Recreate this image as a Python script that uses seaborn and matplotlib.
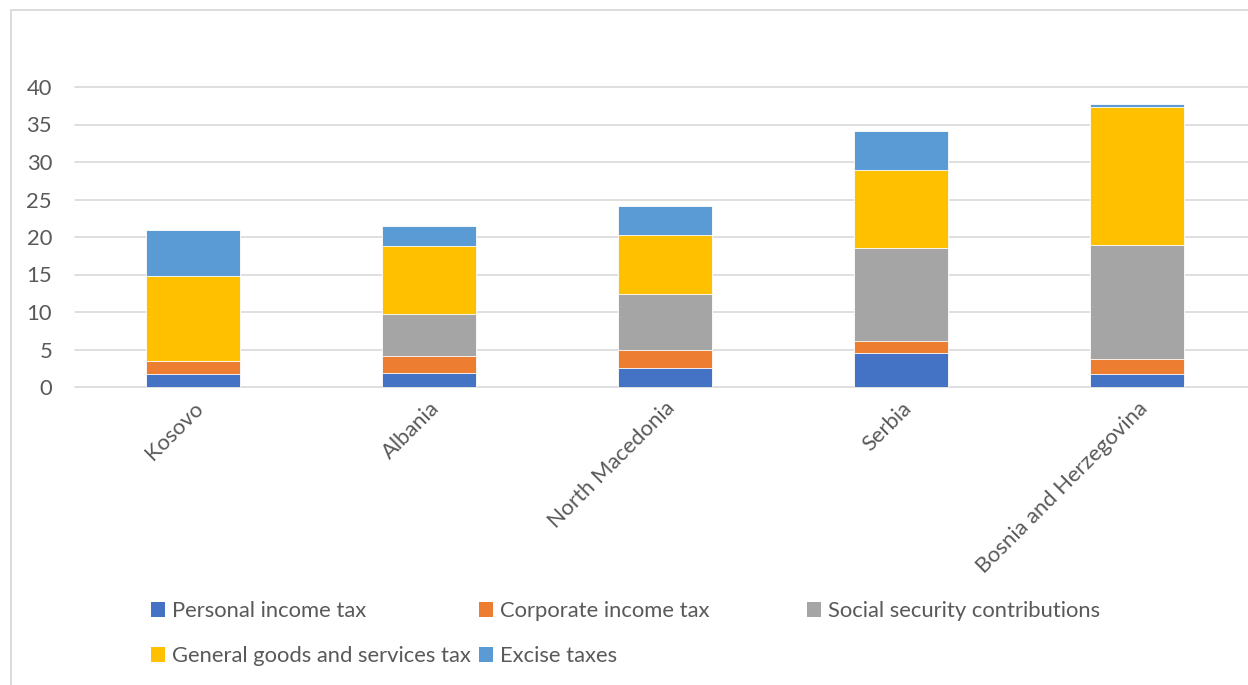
import numpy as np
import pandas as pd
import seaborn as sns
import matplotlib.pyplot as plt
from matplotlib.patches import Rectangle

# Tax revenue composition by country (% of GDP)
countries = ["Kosovo", "Albania", "North Macedonia", "Serbia", "Bosnia and Herzegovina"]
personal_income = [1.8, 1.9, 2.6, 4.5, 1.8]
corporate_income = [1.7, 2.3, 2.3, 1.6, 1.9]
social_security = [0.0, 5.5, 7.5, 12.4, 15.3]
goods_services = [11.3, 9.1, 7.9, 10.5, 18.3]
excise = [6.2, 2.7, 3.8, 5.1, 0.4]

series_names = ["Personal income tax", "Corporate income tax", "Social security contributions",
                "General goods and services tax", "Excise taxes"]
series_values = [personal_income, corporate_income, social_security, goods_services, excise]
series_colors = ["#4472C4", "#ED7D31", "#A5A5A5", "#FFC000", "#5B9BD5"]

sns.set_style("white")
plt.rcParams["font.family"] = ["Lato", "DejaVu Sans"]
TEXT = "#595959"
GRID = "#D9D9D9"
FS = 15.8

W, H = 1248, 685
fig = plt.figure(figsize=(W / 100, H / 100), dpi=100)
ax = fig.add_axes([75 / W, (H - 387) / H, 1180 / W, 300 / H])

# stacked bars: draw cumulative totals from the top segment down
df = pd.DataFrame({"country": countries})
cum = np.cumsum(np.array(series_values, dtype=float), axis=0)
for i in range(len(series_names) - 1, -1, -1):
    df["value"] = cum[i]
    sns.barplot(data=df, x="country", y="value", order=countries, color=series_colors[i],
                saturation=1, width=0.4, edgecolor="white", linewidth=0.6, ax=ax, zorder=3)

ax.set_xlim(-0.5, 4.5)
ax.set_ylim(0, 40)
ax.set_yticks(range(0, 41, 5))
ax.yaxis.grid(True, color=GRID, linewidth=1.2)
ax.xaxis.grid(False)
for gl in ax.get_ygridlines():
    gl.set_clip_on(False)
ax.set_axisbelow(True)
for s in ax.spines.values():
    s.set_visible(False)
ax.set_xlabel("")
ax.set_ylabel("")
ax.tick_params(axis="y", length=0, pad=16.5, labelsize=FS, labelcolor=TEXT)
ax.tick_params(axis="x", length=0, pad=8, labelsize=FS, labelcolor=TEXT)
plt.setp(ax.get_xticklabels(), rotation=45, ha="right", va="top", rotation_mode="anchor")

# chart-area frame
fig.add_artist(Rectangle((11 / W, -0.1), 1.2, (H - 10) / H + 0.1, transform=fig.transFigure,
                         fill=False, edgecolor=GRID, linewidth=1.3))

# legend laid out on a fixed grid of columns
slots = [(151, 611), (479, 611), (807, 611), (151, 656), (479, 656)]
for name, color, (px, py) in zip(series_names, series_colors, slots):
    handle = Rectangle((0, 0), 1, 1, facecolor=color, edgecolor="none")
    leg = fig.legend(handles=[handle], labels=[name], loc="center left",
                     bbox_to_anchor=(px / W, 1 - py / H), frameon=False, fontsize=FS,
                     handlelength=0.64, handleheight=0.64, handletextpad=0.3,
                     borderpad=0, borderaxespad=0)
    for t in leg.get_texts():
        t.set_color(TEXT)

fig.savefig("out.png", dpi=100, facecolor="white")
